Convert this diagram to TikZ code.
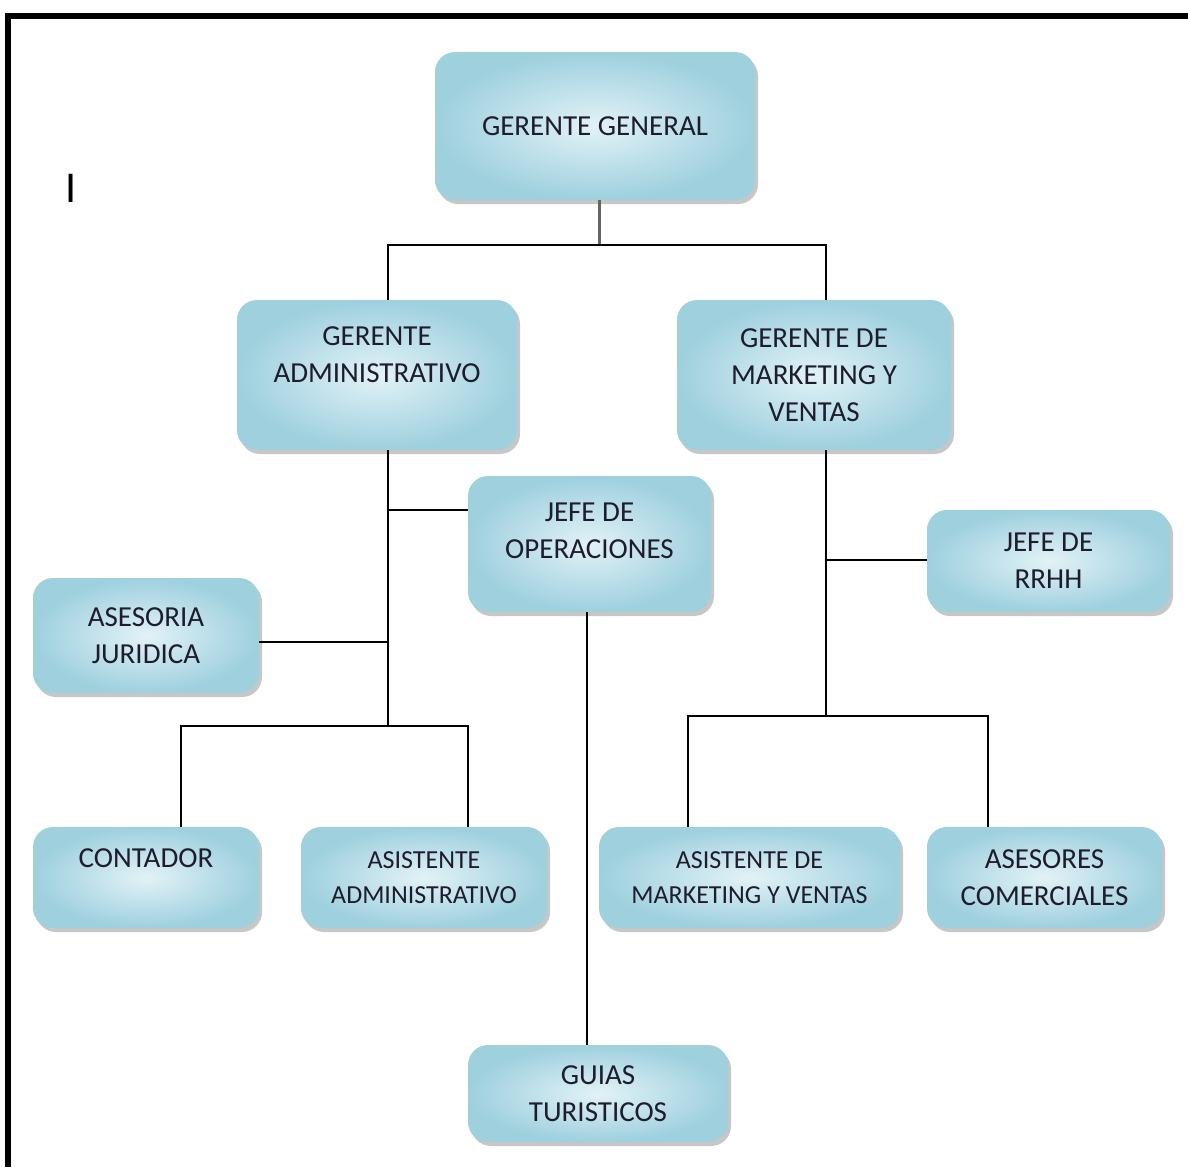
\documentclass[tikz,border=0pt]{standalone}
\usepackage{fontspec}
\setmainfont{Carlito}
\usetikzlibrary{shadows}
\definecolor{boxin}{RGB}{226,242,247}
\definecolor{boxout}{RGB}{158,208,222}
\definecolor{txt}{RGB}{30,28,45}
\definecolor{gline}{RGB}{100,100,100}
\tikzset{
  box/.style={rounded corners=20, inner color=boxin, outer color=boxout,
    draw=none, align=center, text=txt, font=\fontsize{29}{37}\selectfont,
    drop shadow={shadow xshift=3, shadow yshift=4, opacity=0.4, fill=black!55}},
  smalltxt/.style={font=\fontsize{26}{35}\selectfont},
  txtlab/.style={text=txt, font=\fontsize{29}{37}\selectfont, align=center},
  conn/.style={draw=black, line width=2},
  ggconn/.style={draw=gline, line width=3},
}
\begin{document}
\begin{tikzpicture}[x=1pt,y=-1pt]
\useasboundingbox (0,0) rectangle (1188,1167);
\draw[line width=6] (8,1167) -- (8,16) -- (1188,16);
\node[font=\fontsize{44}{44}\selectfont] (mark) at (71,188) {I};

\node[box, minimum width=320, minimum height=148] (gg) at (595,126) {GERENTE GENERAL};
\node[box, minimum width=280, minimum height=150, label={[txtlab,yshift=20]center:GERENTE\\ADMINISTRATIVO}] (ga) at (377,375) {};
\node[box, minimum width=274, minimum height=150] (gm) at (814,375) {GERENTE DE\\MARKETING Y\\VENTAS};
\node[box, minimum width=243, minimum height=136, label={[txtlab,yshift=13]center:JEFE DE\\OPERACIONES}] (jo) at (589.5,544) {};
\node[box, minimum width=243, minimum height=102] (rh) at (1048.5,561) {JEFE DE\\RRHH};
\node[box, minimum width=226, minimum height=115] (aj) at (146,635.5) {ASESORIA\\JURIDICA};
\node[box, minimum width=226, minimum height=101, label={[txtlab,yshift=19]center:CONTADOR}] (co) at (146,877.5) {};
\node[box, smalltxt, minimum width=246, minimum height=101] (aa) at (424,877.5) {ASISTENTE\\ADMINISTRATIVO};
\node[box, smalltxt, minimum width=301, minimum height=101] (am) at (749.5,877.5) {ASISTENTE DE\\MARKETING Y VENTAS};
\node[box, minimum width=235, minimum height=101] (ac) at (1044.5,877.5) {ASESORES\\COMERCIALES};
\node[box, minimum width=260, minimum height=97] (gt) at (598,1093.5) {GUIAS\\TURISTICOS};

\coordinate (top) at (599,245);
\coordinate (tl) at (388,245);
\coordinate (tr) at (826,245);
\draw[ggconn] (gg.south -| top) -- (top);
\draw[conn] (tl |- ga.north) -- (tl) -- (tr) -- (tr |- gm.north);

\coordinate (ab) at (388,726);
\draw[conn] (tl |- ga.south) -- (ab);
\coordinate (b1) at (388,510);
\draw[conn] (b1) -- (b1 -| jo.west);
\coordinate (b2) at (388,642);
\draw[conn] (b2) -- (b2 -| aj.east);
\coordinate (al) at (181,726);
\coordinate (ar) at (468,726);
\draw[conn] (al |- co.north) -- (al) -- (ar) -- (ar |- aa.north);

\coordinate (jd) at (587,612);
\draw[conn] (jd |- jo.south) -- (jd |- gt.north);

\coordinate (mb) at (826,716);
\draw[conn] (tr |- gm.south) -- (mb);
\coordinate (b3) at (826,560);
\draw[conn] (b3) -- (b3 -| rh.west);
\coordinate (ml) at (688,716);
\coordinate (mr) at (988,716);
\draw[conn] (ml |- am.north) -- (ml) -- (mr) -- (mr |- ac.north);
\end{tikzpicture}
\end{document}
